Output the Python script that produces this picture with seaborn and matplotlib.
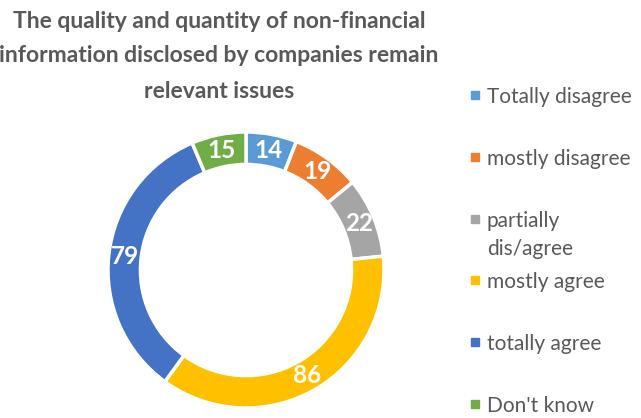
import matplotlib
matplotlib.use("Agg")
import matplotlib.pyplot as plt
import seaborn as sns
from matplotlib.patches import Rectangle

sns.set_style("white")
plt.rcParams['font.family'] = ['Lato', 'DejaVu Sans']

labels = ['Totally disagree', 'mostly disagree', 'partially\ndis/agree',
          'mostly agree', 'totally agree', "Don't know"]
values = [14, 19, 22, 86, 79, 15]
colors = sns.color_palette(['#5B9BD5', '#ED7D31', '#A5A5A5', '#FFC000', '#4472C4', '#70AD47'])

W, H = 641, 418
fig = plt.figure(figsize=(W / 100, H / 100), dpi=100)

# donut axes: centre (246, 270) px, outer radius 138 px
cx, cy, r = 246, 270, 138
ax = fig.add_axes([(cx - r) / W, (H - cy - r) / H, 2 * r / W, 2 * r / H])
wedges, texts = ax.pie(values, colors=colors, startangle=90, counterclock=False,
                       radius=1.0, labels=[str(v) for v in values], labeldistance=0.885,
                       wedgeprops=dict(width=0.235, edgecolor='white', linewidth=2.5))
for t in texts:
    t.set_color('white')
    t.set_fontweight('bold')
    t.set_fontsize(17.5)
    t.set_ha('center')
    t.set_va('center')
ax.set_xlim(-1, 1)
ax.set_ylim(-1, 1)
ax.axis('off')

title_lines = ["The quality and quantity of non-financial",
               "information disclosed by companies remain",
               "relevant issues"]
for i, line in enumerate(title_lines):
    fig.text(219 / W, 1 - (19 + 35 * i) / H, line, ha='center', va='center_baseline',
             fontsize=16.5, fontweight='bold', color='#595959')

# legend on the right
y0, step = 95, 61.8
for i, (lab, col) in enumerate(zip(labels, colors)):
    y = y0 + i * step
    fig.patches.append(Rectangle((471 / W, (H - y - 4) / H), 8 / W, 8 / H,
                                 transform=fig.transFigure, color=col))
    for j, part in enumerate(lab.split('\n')):
        fig.text(487 / W, (H - y - 28 * j) / H, part, ha='left', va='center_baseline',
                 fontsize=15, color='#595959')

fig.savefig('out.png', dpi=100)
